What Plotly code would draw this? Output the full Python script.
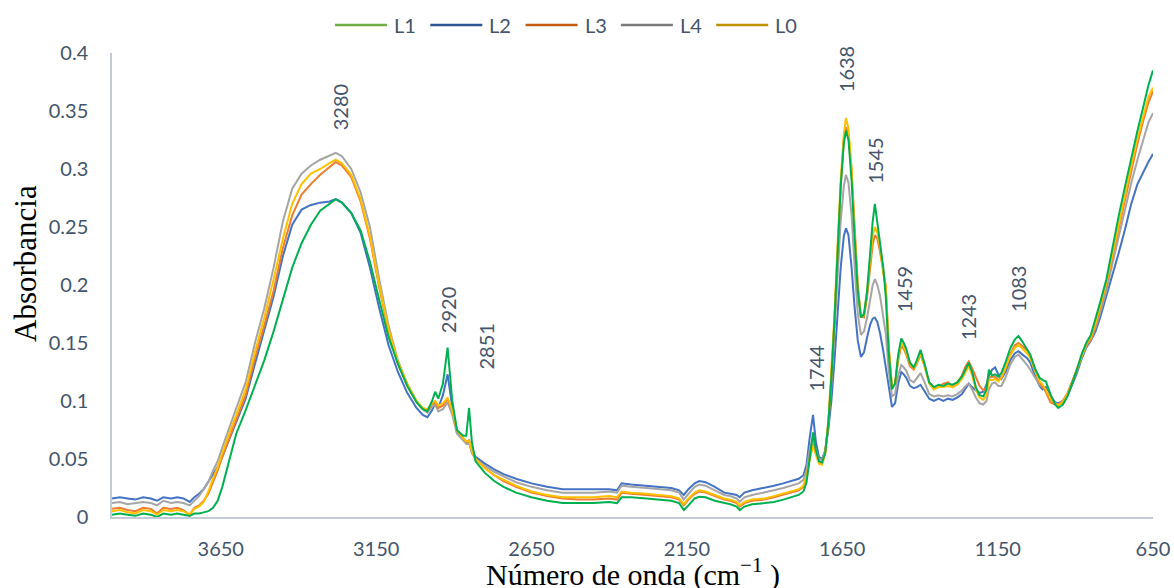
import plotly.graph_objects as go

# ---------------- data ----------------
wavenumber = [
    4000, 3975, 3950, 3925, 3900, 3875, 3855, 3835, 3810, 3790, 3770, 3750,
    3735, 3720, 3705, 3690, 3675, 3660, 3645, 3630, 3615, 3600,
    3570, 3540, 3510, 3480, 3450, 3420, 3390, 3360, 3330, 3300, 3280,
    3260, 3230, 3200, 3170, 3140, 3110, 3080, 3050, 3020, 3000, 2985,
    2970, 2960, 2950, 2935, 2920, 2905, 2890, 2870, 2860, 2851, 2842, 2830,
    2800, 2770, 2740, 2700, 2650, 2600, 2550, 2500, 2450, 2400,
    2375, 2360, 2330, 2280, 2240, 2200, 2175, 2160, 2145, 2125, 2110, 2090, 2060,
    2030, 2010, 1990, 1980, 1965, 1940, 1900, 1870, 1840, 1810, 1790, 1775,
    1765, 1755, 1744, 1735, 1725, 1715, 1705, 1695, 1685, 1675, 1665, 1655,
    1645, 1638, 1630, 1620, 1610, 1600, 1590, 1580, 1570, 1560, 1552, 1545,
    1537, 1528, 1518, 1510, 1500, 1490, 1480, 1470, 1460, 1452, 1444, 1432,
    1420, 1410, 1398, 1385, 1370, 1355, 1340, 1325, 1310, 1295, 1280, 1265, 1253, 1243,
    1232, 1220, 1208, 1196, 1186, 1178, 1168, 1158, 1148, 1138, 1125, 1110, 1095, 1083,
    1070, 1055, 1045, 1030, 1015, 1005, 995, 980, 965, 955, 940, 925, 910, 895,
    880, 865, 850, 835, 820, 800, 780, 760, 740, 720, 700, 680, 665, 650,
]

L1 = [
    .002, .003, .002, .001, .003, .002, .000, .003, .002, .003, .002, .001,
    .003, .003, .004, .005, .008, .014, .026, .042, .058, .072,
    .092, .113, .135, .160, .188, .215, .236, .252, .264, .270, .274,
    .271, .262, .247, .220, .187, .155, .132, .113, .099, .093, .091,
    .100, .108, .102, .115, .146, .100, .075, .070, .070, .094, .065, .048,
    .038, .031, .026, .021, .017, .014, .012, .012, .012, .013,
    .012, .017, .017, .016, .015, .014, .012, .006, .010, .016, .0175, .017, .014,
    .012, .011, .009, .006, .009, .011, .012, .013, .015, .017, .019, .022,
    .030, .050, .073, .058, .048, .047, .055, .080, .120, .170, .230, .285,
    .322, .333, .325, .290, .240, .195, .172, .175, .195, .230, .255, .270,
    .255, .235, .215, .190, .140, .110, .115, .140, .154, .150, .145, .133,
    .129, .135, .144, .132, .116, .112, .114, .113, .115, .114, .116, .121, .128, .133,
    .125, .112, .105, .104, .110, .127, .122, .123, .121, .124, .133, .145, .153, .156,
    .151, .145, .140, .128, .120, .118, .117, .106, .097, .094, .097, .104, .115, .127,
    .140, .150, .157, .170, .185, .205, .233, .260, .285, .310, .333, .355, .372, .385,
]

L2 = [
    .016, .017, .016, .015, .017, .016, .014, .017, .016, .017, .016, .013,
    .017, .020, .024, .030, .036, .043, .052, .062, .072, .082,
    .102, .132, .160, .190, .225, .252, .265, .269, .271, .272, .274,
    .271, .262, .245, .215, .180, .148, .125, .107, .094, .088, .086,
    .092, .098, .094, .105, .123, .095, .073, .068, .064, .066, .056, .052,
    .046, .041, .037, .033, .029, .026, .024, .024, .024, .024,
    .023, .029, .028, .027, .026, .025, .023, .019, .024, .029, .031, .030, .026,
    .021, .020, .019, .017, .021, .023, .025, .027, .029, .031, .033, .036,
    .045, .068, .088, .065, .052, .050, .057, .075, .100, .135, .175, .215,
    .242, .249, .243, .215, .180, .152, .138, .142, .155, .166, .171, .172,
    .168, .158, .143, .130, .110, .095, .098, .115, .125, .123, .120, .113,
    .111, .112, .114, .108, .102, .100, .102, .100, .102, .101, .103, .106, .111, .115,
    .112, .109, .107, .108, .114, .122, .127, .129, .123, .119, .125, .135, .141, .143,
    .140, .137, .133, .122, .113, .110, .112, .104, .099, .098, .100, .105, .114, .124,
    .136, .146, .152, .160, .172, .190, .208, .228, .248, .270, .287, .298, .306, .313,
]

L3 = [
    .007, .008, .006, .005, .008, .007, .003, .008, .007, .008, .006, .002,
    .008, .010, .014, .020, .030, .040, .052, .063, .074, .084,
    .105, .137, .165, .195, .232, .260, .278, .287, .295, .302, .306,
    .303, .293, .272, .240, .198, .160, .132, .113, .099, .093, .092,
    .097, .099, .094, .096, .102, .092, .075, .068, .065, .066, .057, .050,
    .042, .036, .031, .026, .021, .018, .016, .015, .015, .016,
    .015, .021, .020, .019, .018, .017, .015, .010, .015, .020, .022, .021, .018,
    .015, .014, .012, .009, .012, .014, .015, .017, .019, .021, .023, .026,
    .035, .050, .063, .055, .047, .046, .055, .080, .120, .170, .230, .285,
    .325, .336, .330, .300, .250, .200, .173, .172, .190, .215, .235, .243,
    .240, .228, .212, .200, .145, .112, .115, .135, .148, .145, .140, .130,
    .127, .132, .140, .130, .116, .111, .112, .115, .116, .113, .116, .122, .130, .134,
    .128, .120, .113, .109, .112, .120, .121, .121, .118, .120, .128, .140, .148, .150,
    .147, .144, .140, .127, .116, .112, .108, .099, .097, .097, .100, .107, .117, .127,
    .139, .148, .153, .165, .180, .200, .225, .250, .275, .300, .322, .343, .357, .367,
]

L4 = [
    .012, .013, .011, .012, .013, .012, .010, .014, .012, .013, .012, .010,
    .014, .018, .024, .030, .040, .048, .060, .072, .083, .094,
    .116, .150, .180, .215, .255, .283, .296, .303, .308, .312, .314,
    .311, .300, .280, .250, .205, .165, .135, .115, .100, .093, .090,
    .095, .097, .091, .093, .099, .088, .072, .066, .063, .064, .055, .050,
    .044, .039, .035, .030, .026, .023, .021, .021, .021, .022,
    .021, .027, .026, .025, .024, .023, .021, .015, .020, .026, .028, .027, .023,
    .019, .018, .016, .013, .017, .019, .021, .023, .025, .027, .029, .032,
    .040, .058, .068, .058, .050, .049, .057, .080, .115, .160, .210, .255,
    .285, .295, .288, .260, .215, .175, .157, .160, .172, .188, .200, .205,
    .200, .190, .172, .158, .125, .104, .106, .122, .131, .129, .126, .118,
    .116, .120, .124, .116, .106, .104, .105, .104, .105, .104, .106, .109, .113, .115,
    .110, .103, .098, .097, .100, .110, .115, .116, .113, .113, .120, .131, .138, .140,
    .136, .131, .127, .120, .114, .112, .109, .102, .098, .097, .100, .106, .116, .126,
    .138, .147, .153, .163, .176, .195, .219, .242, .265, .288, .308, .327, .340, .348,
]

L0 = [
    .005, .006, .004, .003, .006, .005, .002, .006, .005, .006, .005, .002,
    .007, .009, .013, .022, .033, .043, .055, .067, .078, .088,
    .110, .142, .172, .205, .240, .270, .287, .296, .300, .305, .308,
    .305, .295, .274, .242, .200, .162, .134, .115, .100, .094, .093,
    .098, .100, .096, .098, .103, .092, .075, .068, .065, .066, .057, .050,
    .042, .036, .032, .027, .022, .019, .017, .017, .017, .018,
    .017, .022, .021, .020, .019, .018, .016, .011, .016, .021, .023, .022, .019,
    .016, .015, .013, .010, .013, .015, .016, .018, .020, .022, .024, .027,
    .035, .050, .062, .054, .046, .045, .055, .082, .125, .175, .235, .290,
    .330, .344, .335, .300, .245, .198, .172, .174, .195, .225, .243, .250,
    .245, .232, .210, .198, .145, .112, .115, .138, .150, .147, .142, .132,
    .128, .133, .141, .130, .115, .110, .112, .112, .113, .112, .114, .119, .125, .130,
    .122, .110, .103, .101, .105, .118, .118, .119, .117, .120, .128, .139, .146, .1485,
    .145, .141, .137, .126, .117, .114, .110, .102, .098, .096, .099, .106, .116, .127,
    .139, .149, .155, .167, .182, .202, .227, .253, .278, .303, .326, .347, .362, .370,
]

x_tick_labels = ["3650", "3150", "2650", "2150", "1650", "1150", "650"]
x_tick_values = [3650, 3150, 2650, 2150, 1650, 1150, 650]
y_tick_values = [0, 0.05, 0.1, 0.15, 0.2, 0.25, 0.3, 0.35, 0.4]
y_tick_labels = ["0", "0.05", "0.1", "0.15", "0.2", "0.25", "0.3", "0.35", "0.4"]

peak_labels = [3280, 2920, 2851, 1744, 1638, 1545, 1459, 1243, 1083]
peak_label_heights = [0.353, 0.178, 0.147, 0.128, 0.386, 0.307, 0.196, 0.172, 0.197]
peak_label_shift = [4, 0, 17, 2, 0, 0, 2, 0, 0]

series_names = ["L1", "L2", "L3", "L4", "L0"]
series_values = {"L1": L1, "L2": L2, "L3": L3, "L4": L4, "L0": L0}
line_colors = {"L1": "#00B050", "L2": "#4472C4", "L3": "#ED7D31", "L4": "#A5A5A5", "L0": "#FFC000"}
legend_colors = {"L1": "#70AD47", "L2": "#2F5597", "L3": "#C55A11", "L4": "#7B7B7B", "L0": "#BF9000"}
draw_order = ["L2", "L4", "L3", "L0", "L1"]

for name in series_names:
    assert len(series_values[name]) == len(wavenumber), (name, len(series_values[name]), len(wavenumber))

TEXT = "#44546A"
FONT = "Lato"

# layout geometry (pixels)
W, H = 1174, 588
ML, MR, MT, MB = 112, 21, 53, 71
PW = W - ML - MR
PH = H - MT - MB


def px_to_paper_x(px):
    return (px - ML) / PW


def px_to_paper_y(py):
    return (H - MB - py) / PH


fig = go.Figure()

# spectra
for name in draw_order:
    fig.add_trace(go.Scatter(x=wavenumber, y=series_values[name], mode="lines",
                             name=name, showlegend=False,
                             line=dict(color=line_colors[name], width=2)))

annotations = []
shapes = []
for wn, h, sh in zip(peak_labels, peak_label_heights, peak_label_shift):
    annotations.append(dict(x=wn, y=h, xref="x", yref="y", text=str(wn), showarrow=False,
                            textangle=-90, xshift=sh,
                            font=dict(family=FONT, size=20, color=TEXT)))

# legend drawn at the top (line sample + label)
LEG_X0, LEG_STEP, LEG_LINE, LEG_GAP, LEG_Y = 335, 95.3, 52, 5, 25
for i, name in enumerate(series_names):
    x0 = LEG_X0 + i * LEG_STEP
    shapes.append(dict(type="line", xref="paper", yref="paper",
                       x0=px_to_paper_x(x0), x1=px_to_paper_x(x0 + LEG_LINE),
                       y0=px_to_paper_y(LEG_Y), y1=px_to_paper_y(LEG_Y),
                       line=dict(color=legend_colors[name], width=2.5)))
    annotations.append(dict(x=px_to_paper_x(x0 + LEG_LINE + LEG_GAP), y=px_to_paper_y(LEG_Y),
                            xref="paper", yref="paper", text=name, showarrow=False,
                            xanchor="left", yanchor="middle",
                            font=dict(family=FONT, size=20, color=TEXT)))

annotations.append(dict(x=0, y=0.5, xref="paper", yref="paper", text="Absorbancia",
                        showarrow=False, textangle=-90, xanchor="center", yanchor="middle",
                        xshift=-87, yshift=21,
                        font=dict(family="Liberation Serif", size=31, color="#000000")))
annotations.append(dict(x=0.5, y=0, xref="paper", yref="paper",
                        text="Número de onda (cm<sup>−1</sup> )",
                        showarrow=False, xanchor="center", yanchor="middle", yshift=-55,
                        font=dict(family="Liberation Serif", size=30, color="#000000")))

fig.update_layout(
    width=W, height=H,
    margin=dict(l=ML, r=MR, t=MT, b=MB, autoexpand=False),
    paper_bgcolor="white", plot_bgcolor="white",
    font=dict(family=FONT, size=20, color=TEXT),
    showlegend=False,
    annotations=annotations,
    shapes=shapes,
)

fig.update_xaxes(range=[4000, 650], tickvals=x_tick_values, ticktext=x_tick_labels,
                 showgrid=False, zeroline=False, showline=True, linecolor="#C3CBD8",
                 linewidth=1.5, ticks="", ticklabelstandoff=13, automargin=False,
                 tickfont=dict(family=FONT, size=20, color=TEXT))
fig.update_yaxes(range=[0, 0.4], tickvals=y_tick_values, ticktext=y_tick_labels,
                 showgrid=False, zeroline=False, showline=True, linecolor="#C3CBD8",
                 linewidth=1.5, ticks="", ticklabelstandoff=18, automargin=False,
                 tickfont=dict(family=FONT, size=20, color=TEXT))

fig.write_html("out.html")
